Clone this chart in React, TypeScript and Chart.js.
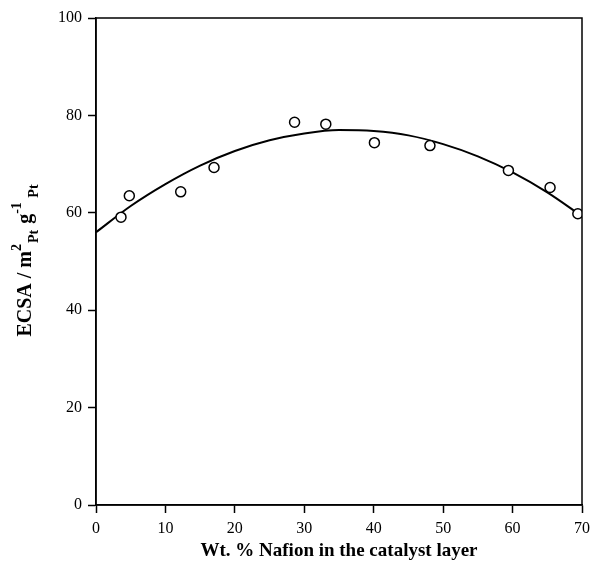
import React, { useEffect, useRef } from "react";
import { Chart, registerables } from "chart.js";

Chart.register(...registerables);

const nafionWt = [3.6, 4.8, 12.2, 17.0, 28.6, 33.1, 40.1, 48.1, 59.4, 65.4, 69.4];
const ecsa = [59.1, 63.5, 64.3, 69.3, 78.6, 78.2, 74.4, 73.8, 68.7, 65.2, 59.8];

const fitX = [0, 5, 10, 15, 20, 25, 30, 35, 40, 45, 50, 55, 60, 65, 70];
const fitY = [56.0, 61.4, 65.9, 69.7, 72.7, 74.9, 76.3, 77.0, 76.8, 75.9, 74.1, 71.6, 68.3, 64.2, 59.3];

const xTicks = [0, 10, 20, 30, 40, 50, 60, 70];
const yTicks = [0, 20, 40, 60, 80, 100];

const xTitle = "Wt. % Nafion in the catalyst layer";
// y title pieces: [text, kind] kind: n=normal, sup, sub
const yTitleParts: [string, string][] = [
  ["ECSA / m", "n"],
  ["2", "sup"],
  ["Pt", "sub"],
  [" g", "n"],
  ["-1", "sup"],
  [" Pt", "sub"],
];

const SERIF = "'Liberation Serif', 'DejaVu Serif', serif";

const framePlugin = {
  id: "frame",
  afterDraw(chart: any) {
    const { ctx, chartArea } = chart;
    ctx.save();
    ctx.strokeStyle = "#000";
    ctx.lineWidth = 1.5;
    ctx.strokeRect(chartArea.left, chartArea.top, chartArea.right - chartArea.left, chartArea.bottom - chartArea.top);
    ctx.restore();
  },
};

const yTitlePlugin = {
  id: "ytitle",
  afterDraw(chart: any) {
    const { ctx } = chart;
    ctx.save();
    ctx.translate(26, 260);
    ctx.rotate(-Math.PI / 2);
    ctx.fillStyle = "#000";
    ctx.textBaseline = "middle";
    ctx.textAlign = "left";
    const big = `bold 20px ${SERIF}`;
    const small = `bold 14px ${SERIF}`;
    const segs: { t: string; f: string; dy: number; x: number }[] = [];
    let x = 0;
    for (const [t, k] of yTitleParts) {
      const f = k === "n" ? big : small;
      const dy = k === "sup" ? -9 : k === "sub" ? 8 : 0;
      ctx.font = f;
      segs.push({ t, f, dy, x });
      x += ctx.measureText(t).width + (k === "n" ? 0 : 1);
    }
    const total = x;
    for (const s of segs) {
      ctx.font = s.f;
      ctx.fillText(s.t, s.x - total / 2, s.dy);
    }
    ctx.restore();
  },
};

export default function App() {
  const ref = useRef<HTMLCanvasElement>(null);
  useEffect(() => {
    if (!ref.current) return;
    const chart = new Chart(ref.current, {
      type: "scatter",
      data: {
        datasets: [
          {
            type: "scatter",
            data: nafionWt.map((x, i) => ({ x, y: ecsa[i] })),
            pointStyle: "circle",
            pointRadius: 5,
            borderColor: "#000",
            backgroundColor: "#fff",
            borderWidth: 1.5,
            order: 0,
          },
          {
            type: "line",
            data: fitX.map((x, i) => ({ x, y: fitY[i] })),
            borderColor: "#000",
            borderWidth: 2,
            pointRadius: 0,
            cubicInterpolationMode: "monotone",
            fill: false,
            order: 1,
          } as any,
        ],
      },
      options: {
        animation: false,
        responsive: false,
        maintainAspectRatio: false,
        layout: { padding: { top: 18, right: 11, left: 0, bottom: 0 } },
        plugins: { legend: { display: false }, tooltip: { enabled: false } },
        scales: {
          x: {
            type: "linear",
            min: 0,
            max: 70,
            afterBuildTicks: (s: any) => {
              s.ticks = xTicks.map((v) => ({ value: v }));
            },
            afterFit: (s: any) => {
              s.height = 57;
              s.paddingLeft = 0;
              s.paddingRight = 0;
            },
            ticks: { color: "#000", font: { family: SERIF, size: 16 }, padding: 6, maxRotation: 0 },
            grid: { drawOnChartArea: false, tickLength: 8, color: "#000", tickColor: "#000", tickWidth: 1.5 },
            border: { display: true, color: "#000", width: 1.5 },
            title: {
              display: true,
              text: xTitle,
              color: "#000",
              font: { family: SERIF, size: 19, weight: "bold" },
              padding: { top: 0, bottom: 0 },
            },
          },
          y: {
            type: "linear",
            min: 0,
            max: 100,
            afterBuildTicks: (s: any) => {
              s.ticks = yTicks.map((v) => ({ value: v }));
            },
            afterFit: (s: any) => {
              s.width = 96;
              s.paddingTop = 0;
              s.paddingBottom = 0;
            },
            ticks: { color: "#000", font: { family: SERIF, size: 16 }, padding: 6 },
            grid: { drawOnChartArea: false, tickLength: 8, color: "#000", tickColor: "#000", tickWidth: 1.5 },
            border: { display: true, color: "#000", width: 1.5 },
          },
        },
      },
      plugins: [framePlugin, yTitlePlugin],
    } as any);
    return () => chart.destroy();
  }, []);
  return (
    <div style={{ position: "fixed", left: 0, top: 0, width: 593, height: 562, background: "#fff" }}>
      <canvas ref={ref} width={593} height={562} style={{ width: 593, height: 562 }} />
    </div>
  );
}
